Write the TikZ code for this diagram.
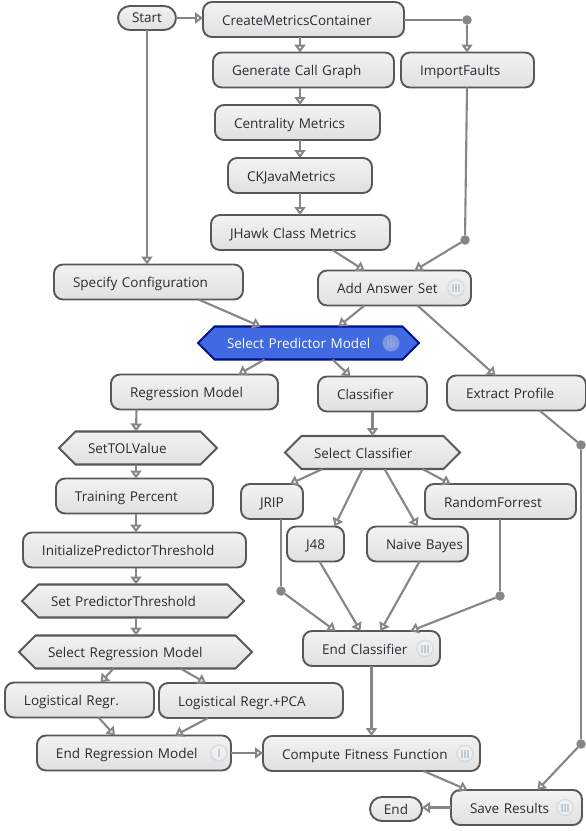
\documentclass[tikz,border=0pt]{standalone}
\usepackage{fontspec}
\setmainfont{Open Sans}
\usetikzlibrary{arrows.meta, shapes.symbols, shapes.misc, calc}
\definecolor{boxline}{HTML}{585858}
\definecolor{flowline}{HTML}{868686}
\definecolor{royal}{HTML}{4169E1}
\definecolor{royalline}{HTML}{00108C}
\definecolor{textdark}{HTML}{2A2A33}
\definecolor{iconline}{HTML}{9DB4C8}
\tikzset{
  x=1pt, y=-1pt,
  every node/.style={font=\fontsize{13.5}{16}\selectfont, text=textdark, outer sep=0pt},
  proc/.style={draw=boxline, line width=1.9pt, top color=black!5, bottom color=black!12, rounded corners=9pt, minimum height=35pt, inner xsep=0pt, inner ysep=0pt, minimum width=#1pt, text width=#1pt, align=left, text height=12pt, text depth=1pt, execute at begin node={\hspace*{19pt}}},
  term/.style={draw=boxline, line width=1.9pt, top color=black!5, bottom color=black!12, rounded rectangle, minimum height=24pt, inner xsep=0pt, inner ysep=0pt, minimum width=#1pt},
  hexproc/.style={shape=signal, signal to=east and west, signal pointer angle=90, draw=boxline, line width=2.1pt, top color=black!5, bottom color=black!12, minimum height=33pt, inner xsep=0pt, inner ysep=0pt, minimum width=#1pt, text width=#1pt-34pt, align=left, text height=12pt, text depth=1pt, execute at begin node={\hspace*{12pt}}},
  pto/.style={draw=flowline, line width=2.1pt, -{Triangle[open, length=8pt, width=11pt]}},
  lin/.style={draw=flowline, line width=2.1pt},
  dot/.style={circle, fill=flowline, minimum size=9.5pt, inner sep=0pt},
  lanes/.pic={
    \fill[fill=white, fill opacity=0.3, draw=iconline, draw opacity=0.3, line width=1.5pt] (0,0) circle[radius=8];
    \foreach \i in {-3,0,3} { \draw[iconline, opacity=0.6, line width=2pt] (\i,-4) -- (\i,4); }
  },
  single/.pic={
    \fill[fill=white, fill opacity=0.3, draw=iconline, draw opacity=0.3, line width=1.5pt] (0,0) circle[radius=8];
    \draw[iconline, opacity=0.6, line width=2pt] (0,-4) -- (0,4);
  }
}

\begin{document}
\begin{tikzpicture}
  \useasboundingbox (0,0) rectangle (586,831);

  % top column
  \node[term=58] (start) at (147,18) {Start};
  \node[proc=201] (create) at (303.5,19.5) {CreateMetricsContainer};
  \node[proc=181] (callgraph) at (303.5,70) {Generate Call Graph};
  \node[proc=133] (faults) at (467.5,70) {ImportFaults};
  \node[proc=165] (central) at (297.5,122.5) {Centrality Metrics};
  \node[proc=144] (ckjava) at (300,175.5) {CKJavaMetrics};
  \node[proc=179] (jhawk) at (300.5,232.5) {JHawk Class Metrics};
  \node[proc=189] (config) at (148.5,282) {Specify Configuration};
  \node[proc=153] (answer) at (394.5,288) {Add Answer Set};
  \node[hexproc=221, fill=royal, top color=royal, bottom color=royal, draw=royalline, text=white] (predictor) at (308.5,343) {Select Predictor Model};

  % regression side
  \node[proc=167] (regress) at (194.5,392) {Regression Model};
  \node[hexproc=158] (tol) at (138,448) {SetTOLValue};
  \node[proc=157] (training) at (134.5,496) {Training Percent};
  \node[proc=223] (initthresh) at (134.5,550) {InitializePredictorThreshold};
  \node[hexproc=222] (setthresh) at (133,601) {Set PredictorThreshold};
  \node[hexproc=233] (selregr) at (135.5,652) {Select Regression Model};
  \node[proc=149] (logreg) at (79.5,700) {Logistical Regr.};
  \node[proc=184] (logpca) at (251,700.5) {Logistical Regr.+PCA};
  \node[proc=194] (endregr) at (134,753) {End Regression Model};

  % classifier side
  \node[proc=109] (classif) at (372.5,394) {Classifier};
  \node[proc=139] (profile) at (516.5,393) {Extract Profile};
  \node[hexproc=175] (selclass) at (372.5,452.5) {Select Classifier};
  \node[proc=62] (jrip) at (272,501.5) {JRIP};
  \node[proc=151] (forrest) at (500.5,501.5) {RandomForrest};
  \node[proc=57] (jfe) at (315.5,544) {J48};
  \node[proc=101] (bayes) at (417.5,544) {Naive Bayes};
  \node[proc=137] (endclass) at (371.5,648.5) {End Classifier};

  % bottom row
  \node[proc=217] (fitness) at (371.5,753.5) {Compute Fitness Function};
  \node[proc=131] (save) at (516.5,807.5) {Save Results};
  \node[term=52] (stop) at (396,809) {End};

  % junctions
  \node[dot] (jfaults) at (467,20) {};
  \node[dot] (janswer) at (465,240) {};
  \node[dot] (jprofile) at (581,445) {};
  \node[dot] (jsave) at (581,744) {};
  \node[dot] (jjrip) at (281,591) {};
  \node[dot] (jforrest) at (500,596) {};

  % state icons
  \pic at ([xshift=-15]answer.east) {lanes};
  \pic at ([xshift=-28]predictor.east) {lanes};
  \pic at ([xshift=-15]endclass.east) {lanes};
  \pic at ([xshift=-15]fitness.east) {lanes};
  \pic at ([xshift=-17]save.east) {lanes};
  \pic at ([xshift=-12]endregr.east) {single};

  % top flow
  \draw[pto] (start.east) -- (start.east -| create.west);
  \draw[pto] ([xshift=-3.5]create.south) -- ([xshift=-3.5]callgraph.north);
  \draw[pto] ([xshift=-3.5]callgraph.south) -- ([xshift=2.5]central.north);
  \draw[pto] ([xshift=2.5]central.south) -- (ckjava.north);
  \draw[pto] (ckjava.south) -- ([xshift=-0.5]jhawk.north);
  \draw[pto] ([xshift=32]jhawk.south) -- ([xshift=-30]answer.north);
  \draw[lin] (create.east |- jfaults) -- (jfaults);
  \draw[pto] (jfaults) -- (jfaults |- faults.north);
  \draw[lin] (jfaults |- faults.south) -- (janswer);
  \draw[pto] (janswer) -- ([xshift=20]answer.north);
  \draw[pto] (start.south) -- (start.south |- config.north);
  \draw[pto] ([xshift=50]config.south) -- ([xshift=-48]predictor.north);
  \draw[pto] ([xshift=-30]answer.south) -- ([xshift=30]predictor.north);
  \draw[pto] ([xshift=23]answer.south) -- ([xshift=-21]profile.north);
  \draw[pto] ([xshift=-44]predictor.south) -- ([xshift=44]regress.north);
  \draw[pto] ([xshift=24]predictor.south) -- ([xshift=-22]classif.north);

  % regression flow
  \draw[pto] ([xshift=-58]regress.south) -- ([xshift=-2]tol.north);
  \draw[pto] ([xshift=-2]tol.south) -- ([xshift=1.5]training.north);
  \draw[pto] ([xshift=1.5]training.south) -- ([xshift=1.5]initthresh.north);
  \draw[pto] ([xshift=1.5]initthresh.south) -- ([xshift=3]setthresh.north);
  \draw[pto] ([xshift=3]setthresh.south) -- ([xshift=0.5]selregr.north);
  \draw[pto] ([xshift=-22]selregr.south) -- ([xshift=21]logreg.north);
  \draw[pto] ([xshift=45]selregr.south) -- ([xshift=-45]logpca.north);
  \draw[pto] ([xshift=19]logreg.south) -- ([xshift=-19]endregr.north);
  \draw[pto] ([xshift=-43]logpca.south) -- ([xshift=41]endregr.north);
  \draw[pto] (endregr.east) -- (endregr.east -| fitness.west);

  % classifier flow
  \draw[pto] (classif.south) -- (selclass.north);
  \draw[pto] ([xshift=-50]selclass.south) -- ([xshift=18]jrip.north);
  \draw[pto] ([xshift=-10]selclass.south) -- ([xshift=19]jfe.north);
  \draw[pto] ([xshift=12]selclass.south) -- (bayes.north);
  \draw[pto] ([xshift=50]selclass.south) -- ([xshift=-50]forrest.north);
  \draw[lin] ([xshift=9]jrip.south) -- (jjrip);
  \draw[pto] (jjrip) -- ([xshift=-36]endclass.north);
  \draw[pto] ([xshift=4]jfe.south) -- ([xshift=-11]endclass.north);
  \draw[pto] ([xshift=2]bayes.south) -- ([xshift=9]endclass.north);
  \draw[lin] (jforrest |- forrest.south) -- (jforrest);
  \draw[pto] (jforrest) -- ([xshift=39]endclass.north);
  \draw[pto] (endclass.south) -- (endclass.south |- fitness.north);

  % end flow
  \draw[lin] ([xshift=23]profile.south) -- (jprofile);
  \draw[lin] (jprofile) -- (jsave);
  \draw[pto] (jsave) -- ([xshift=21]save.north);
  \draw[pto] ([xshift=52]fitness.south) -- ([xshift=-49]save.north);
  \draw[pto] (save.west) -- (save.west -| stop.east);
\end{tikzpicture}
\end{document}
